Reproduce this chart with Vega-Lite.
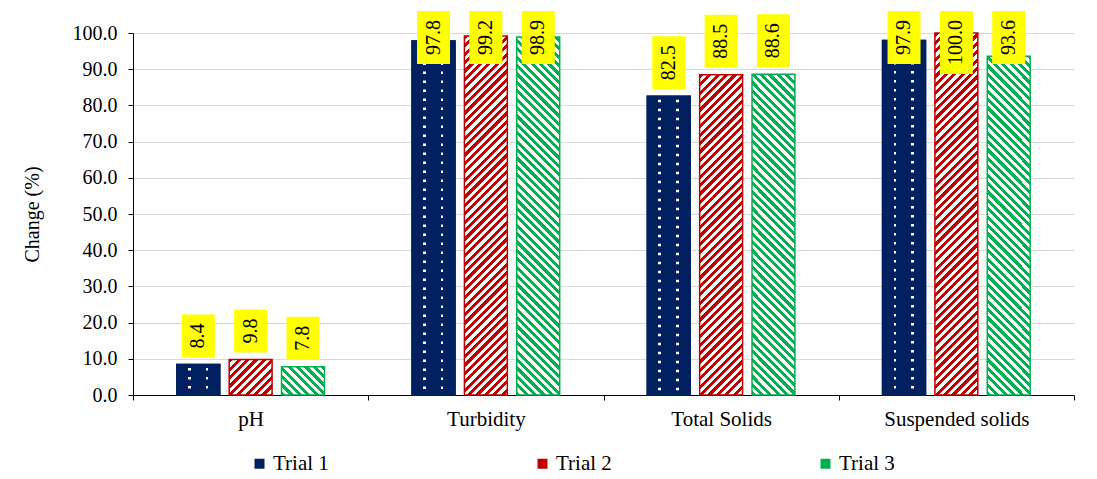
{
  "$schema": "https://vega.github.io/schema/vega-lite/v6.json",
  "autosize": "none",
  "width": 941,
  "height": 362,
  "padding": {"left": 133, "top": 33, "right": 23, "bottom": 84},
  "background": "white",
  "params": [
    {"name": "s2", "value": [
      {"offset":0,"color":"#c00000"},{"offset":0.01,"color":"#c00000"},{"offset":0.01,"color":"#fff"},{"offset":0.02,"color":"#fff"},
      {"offset":0.02,"color":"#c00000"},{"offset":0.03,"color":"#c00000"},{"offset":0.03,"color":"#fff"},{"offset":0.04,"color":"#fff"},
      {"offset":0.04,"color":"#c00000"},{"offset":0.05,"color":"#c00000"},{"offset":0.05,"color":"#fff"},{"offset":0.06,"color":"#fff"},
      {"offset":0.06,"color":"#c00000"},{"offset":0.07,"color":"#c00000"},{"offset":0.07,"color":"#fff"},{"offset":0.08,"color":"#fff"},
      {"offset":0.08,"color":"#c00000"},{"offset":0.09,"color":"#c00000"},{"offset":0.09,"color":"#fff"},{"offset":0.1,"color":"#fff"},
      {"offset":0.1,"color":"#c00000"},{"offset":0.11,"color":"#c00000"},{"offset":0.11,"color":"#fff"},{"offset":0.12,"color":"#fff"},
      {"offset":0.12,"color":"#c00000"},{"offset":0.13,"color":"#c00000"},{"offset":0.13,"color":"#fff"},{"offset":0.14,"color":"#fff"},
      {"offset":0.14,"color":"#c00000"},{"offset":0.15,"color":"#c00000"},{"offset":0.15,"color":"#fff"},{"offset":0.16,"color":"#fff"},
      {"offset":0.16,"color":"#c00000"},{"offset":0.17,"color":"#c00000"},{"offset":0.17,"color":"#fff"},{"offset":0.18,"color":"#fff"},
      {"offset":0.18,"color":"#c00000"},{"offset":0.19,"color":"#c00000"},{"offset":0.19,"color":"#fff"},{"offset":0.2,"color":"#fff"},
      {"offset":0.2,"color":"#c00000"},{"offset":0.21,"color":"#c00000"},{"offset":0.21,"color":"#fff"},{"offset":0.22,"color":"#fff"},
      {"offset":0.22,"color":"#c00000"},{"offset":0.23,"color":"#c00000"},{"offset":0.23,"color":"#fff"},{"offset":0.24,"color":"#fff"},
      {"offset":0.24,"color":"#c00000"},{"offset":0.25,"color":"#c00000"},{"offset":0.25,"color":"#fff"},{"offset":0.26,"color":"#fff"},
      {"offset":0.26,"color":"#c00000"},{"offset":0.27,"color":"#c00000"},{"offset":0.27,"color":"#fff"},{"offset":0.28,"color":"#fff"},
      {"offset":0.28,"color":"#c00000"},{"offset":0.29,"color":"#c00000"},{"offset":0.29,"color":"#fff"},{"offset":0.3,"color":"#fff"},
      {"offset":0.3,"color":"#c00000"},{"offset":0.31,"color":"#c00000"},{"offset":0.31,"color":"#fff"},{"offset":0.32,"color":"#fff"},
      {"offset":0.32,"color":"#c00000"},{"offset":0.33,"color":"#c00000"},{"offset":0.33,"color":"#fff"},{"offset":0.34,"color":"#fff"},
      {"offset":0.34,"color":"#c00000"},{"offset":0.35,"color":"#c00000"},{"offset":0.35,"color":"#fff"},{"offset":0.36,"color":"#fff"},
      {"offset":0.36,"color":"#c00000"},{"offset":0.37,"color":"#c00000"},{"offset":0.37,"color":"#fff"},{"offset":0.38,"color":"#fff"},
      {"offset":0.38,"color":"#c00000"},{"offset":0.39,"color":"#c00000"},{"offset":0.39,"color":"#fff"},{"offset":0.4,"color":"#fff"},
      {"offset":0.4,"color":"#c00000"},{"offset":0.41,"color":"#c00000"},{"offset":0.41,"color":"#fff"},{"offset":0.42,"color":"#fff"},
      {"offset":0.42,"color":"#c00000"},{"offset":0.43,"color":"#c00000"},{"offset":0.43,"color":"#fff"},{"offset":0.44,"color":"#fff"},
      {"offset":0.44,"color":"#c00000"},{"offset":0.45,"color":"#c00000"},{"offset":0.45,"color":"#fff"},{"offset":0.46,"color":"#fff"},
      {"offset":0.46,"color":"#c00000"},{"offset":0.47,"color":"#c00000"},{"offset":0.47,"color":"#fff"},{"offset":0.48,"color":"#fff"},
      {"offset":0.48,"color":"#c00000"},{"offset":0.49,"color":"#c00000"},{"offset":0.49,"color":"#fff"},{"offset":0.5,"color":"#fff"},
      {"offset":0.5,"color":"#c00000"},{"offset":0.51,"color":"#c00000"},{"offset":0.51,"color":"#fff"},{"offset":0.52,"color":"#fff"},
      {"offset":0.52,"color":"#c00000"},{"offset":0.53,"color":"#c00000"},{"offset":0.53,"color":"#fff"},{"offset":0.54,"color":"#fff"},
      {"offset":0.54,"color":"#c00000"},{"offset":0.55,"color":"#c00000"},{"offset":0.55,"color":"#fff"},{"offset":0.56,"color":"#fff"},
      {"offset":0.56,"color":"#c00000"},{"offset":0.57,"color":"#c00000"},{"offset":0.57,"color":"#fff"},{"offset":0.58,"color":"#fff"},
      {"offset":0.58,"color":"#c00000"},{"offset":0.59,"color":"#c00000"},{"offset":0.59,"color":"#fff"},{"offset":0.6,"color":"#fff"},
      {"offset":0.6,"color":"#c00000"},{"offset":0.61,"color":"#c00000"},{"offset":0.61,"color":"#fff"},{"offset":0.62,"color":"#fff"},
      {"offset":0.62,"color":"#c00000"},{"offset":0.63,"color":"#c00000"},{"offset":0.63,"color":"#fff"},{"offset":0.64,"color":"#fff"},
      {"offset":0.64,"color":"#c00000"},{"offset":0.65,"color":"#c00000"},{"offset":0.65,"color":"#fff"},{"offset":0.66,"color":"#fff"},
      {"offset":0.66,"color":"#c00000"},{"offset":0.67,"color":"#c00000"},{"offset":0.67,"color":"#fff"},{"offset":0.68,"color":"#fff"},
      {"offset":0.68,"color":"#c00000"},{"offset":0.69,"color":"#c00000"},{"offset":0.69,"color":"#fff"},{"offset":0.7,"color":"#fff"},
      {"offset":0.7,"color":"#c00000"},{"offset":0.71,"color":"#c00000"},{"offset":0.71,"color":"#fff"},{"offset":0.72,"color":"#fff"},
      {"offset":0.72,"color":"#c00000"},{"offset":0.73,"color":"#c00000"},{"offset":0.73,"color":"#fff"},{"offset":0.74,"color":"#fff"},
      {"offset":0.74,"color":"#c00000"},{"offset":0.75,"color":"#c00000"},{"offset":0.75,"color":"#fff"},{"offset":0.76,"color":"#fff"},
      {"offset":0.76,"color":"#c00000"},{"offset":0.77,"color":"#c00000"},{"offset":0.77,"color":"#fff"},{"offset":0.78,"color":"#fff"},
      {"offset":0.78,"color":"#c00000"},{"offset":0.79,"color":"#c00000"},{"offset":0.79,"color":"#fff"},{"offset":0.8,"color":"#fff"},
      {"offset":0.8,"color":"#c00000"},{"offset":0.81,"color":"#c00000"},{"offset":0.81,"color":"#fff"},{"offset":0.82,"color":"#fff"},
      {"offset":0.82,"color":"#c00000"},{"offset":0.83,"color":"#c00000"},{"offset":0.83,"color":"#fff"},{"offset":0.84,"color":"#fff"},
      {"offset":0.84,"color":"#c00000"},{"offset":0.85,"color":"#c00000"},{"offset":0.85,"color":"#fff"},{"offset":0.86,"color":"#fff"},
      {"offset":0.86,"color":"#c00000"},{"offset":0.87,"color":"#c00000"},{"offset":0.87,"color":"#fff"},{"offset":0.88,"color":"#fff"},
      {"offset":0.88,"color":"#c00000"},{"offset":0.89,"color":"#c00000"},{"offset":0.89,"color":"#fff"},{"offset":0.9,"color":"#fff"},
      {"offset":0.9,"color":"#c00000"},{"offset":0.91,"color":"#c00000"},{"offset":0.91,"color":"#fff"},{"offset":0.92,"color":"#fff"},
      {"offset":0.92,"color":"#c00000"},{"offset":0.93,"color":"#c00000"},{"offset":0.93,"color":"#fff"},{"offset":0.94,"color":"#fff"},
      {"offset":0.94,"color":"#c00000"},{"offset":0.95,"color":"#c00000"},{"offset":0.95,"color":"#fff"},{"offset":0.96,"color":"#fff"},
      {"offset":0.96,"color":"#c00000"},{"offset":0.97,"color":"#c00000"},{"offset":0.97,"color":"#fff"},{"offset":0.98,"color":"#fff"},
      {"offset":0.98,"color":"#c00000"},{"offset":0.99,"color":"#c00000"},{"offset":0.99,"color":"#fff"},{"offset":1,"color":"#fff"}
    ]},
    {"name": "s3", "value": [
      {"offset":0,"color":"#00b050"},{"offset":0.01,"color":"#00b050"},{"offset":0.01,"color":"#fff"},{"offset":0.02,"color":"#fff"},
      {"offset":0.02,"color":"#00b050"},{"offset":0.03,"color":"#00b050"},{"offset":0.03,"color":"#fff"},{"offset":0.04,"color":"#fff"},
      {"offset":0.04,"color":"#00b050"},{"offset":0.05,"color":"#00b050"},{"offset":0.05,"color":"#fff"},{"offset":0.06,"color":"#fff"},
      {"offset":0.06,"color":"#00b050"},{"offset":0.07,"color":"#00b050"},{"offset":0.07,"color":"#fff"},{"offset":0.08,"color":"#fff"},
      {"offset":0.08,"color":"#00b050"},{"offset":0.09,"color":"#00b050"},{"offset":0.09,"color":"#fff"},{"offset":0.1,"color":"#fff"},
      {"offset":0.1,"color":"#00b050"},{"offset":0.11,"color":"#00b050"},{"offset":0.11,"color":"#fff"},{"offset":0.12,"color":"#fff"},
      {"offset":0.12,"color":"#00b050"},{"offset":0.13,"color":"#00b050"},{"offset":0.13,"color":"#fff"},{"offset":0.14,"color":"#fff"},
      {"offset":0.14,"color":"#00b050"},{"offset":0.15,"color":"#00b050"},{"offset":0.15,"color":"#fff"},{"offset":0.16,"color":"#fff"},
      {"offset":0.16,"color":"#00b050"},{"offset":0.17,"color":"#00b050"},{"offset":0.17,"color":"#fff"},{"offset":0.18,"color":"#fff"},
      {"offset":0.18,"color":"#00b050"},{"offset":0.19,"color":"#00b050"},{"offset":0.19,"color":"#fff"},{"offset":0.2,"color":"#fff"},
      {"offset":0.2,"color":"#00b050"},{"offset":0.21,"color":"#00b050"},{"offset":0.21,"color":"#fff"},{"offset":0.22,"color":"#fff"},
      {"offset":0.22,"color":"#00b050"},{"offset":0.23,"color":"#00b050"},{"offset":0.23,"color":"#fff"},{"offset":0.24,"color":"#fff"},
      {"offset":0.24,"color":"#00b050"},{"offset":0.25,"color":"#00b050"},{"offset":0.25,"color":"#fff"},{"offset":0.26,"color":"#fff"},
      {"offset":0.26,"color":"#00b050"},{"offset":0.27,"color":"#00b050"},{"offset":0.27,"color":"#fff"},{"offset":0.28,"color":"#fff"},
      {"offset":0.28,"color":"#00b050"},{"offset":0.29,"color":"#00b050"},{"offset":0.29,"color":"#fff"},{"offset":0.3,"color":"#fff"},
      {"offset":0.3,"color":"#00b050"},{"offset":0.31,"color":"#00b050"},{"offset":0.31,"color":"#fff"},{"offset":0.32,"color":"#fff"},
      {"offset":0.32,"color":"#00b050"},{"offset":0.33,"color":"#00b050"},{"offset":0.33,"color":"#fff"},{"offset":0.34,"color":"#fff"},
      {"offset":0.34,"color":"#00b050"},{"offset":0.35,"color":"#00b050"},{"offset":0.35,"color":"#fff"},{"offset":0.36,"color":"#fff"},
      {"offset":0.36,"color":"#00b050"},{"offset":0.37,"color":"#00b050"},{"offset":0.37,"color":"#fff"},{"offset":0.38,"color":"#fff"},
      {"offset":0.38,"color":"#00b050"},{"offset":0.39,"color":"#00b050"},{"offset":0.39,"color":"#fff"},{"offset":0.4,"color":"#fff"},
      {"offset":0.4,"color":"#00b050"},{"offset":0.41,"color":"#00b050"},{"offset":0.41,"color":"#fff"},{"offset":0.42,"color":"#fff"},
      {"offset":0.42,"color":"#00b050"},{"offset":0.43,"color":"#00b050"},{"offset":0.43,"color":"#fff"},{"offset":0.44,"color":"#fff"},
      {"offset":0.44,"color":"#00b050"},{"offset":0.45,"color":"#00b050"},{"offset":0.45,"color":"#fff"},{"offset":0.46,"color":"#fff"},
      {"offset":0.46,"color":"#00b050"},{"offset":0.47,"color":"#00b050"},{"offset":0.47,"color":"#fff"},{"offset":0.48,"color":"#fff"},
      {"offset":0.48,"color":"#00b050"},{"offset":0.49,"color":"#00b050"},{"offset":0.49,"color":"#fff"},{"offset":0.5,"color":"#fff"},
      {"offset":0.5,"color":"#00b050"},{"offset":0.51,"color":"#00b050"},{"offset":0.51,"color":"#fff"},{"offset":0.52,"color":"#fff"},
      {"offset":0.52,"color":"#00b050"},{"offset":0.53,"color":"#00b050"},{"offset":0.53,"color":"#fff"},{"offset":0.54,"color":"#fff"},
      {"offset":0.54,"color":"#00b050"},{"offset":0.55,"color":"#00b050"},{"offset":0.55,"color":"#fff"},{"offset":0.56,"color":"#fff"},
      {"offset":0.56,"color":"#00b050"},{"offset":0.57,"color":"#00b050"},{"offset":0.57,"color":"#fff"},{"offset":0.58,"color":"#fff"},
      {"offset":0.58,"color":"#00b050"},{"offset":0.59,"color":"#00b050"},{"offset":0.59,"color":"#fff"},{"offset":0.6,"color":"#fff"},
      {"offset":0.6,"color":"#00b050"},{"offset":0.61,"color":"#00b050"},{"offset":0.61,"color":"#fff"},{"offset":0.62,"color":"#fff"},
      {"offset":0.62,"color":"#00b050"},{"offset":0.63,"color":"#00b050"},{"offset":0.63,"color":"#fff"},{"offset":0.64,"color":"#fff"},
      {"offset":0.64,"color":"#00b050"},{"offset":0.65,"color":"#00b050"},{"offset":0.65,"color":"#fff"},{"offset":0.66,"color":"#fff"},
      {"offset":0.66,"color":"#00b050"},{"offset":0.67,"color":"#00b050"},{"offset":0.67,"color":"#fff"},{"offset":0.68,"color":"#fff"},
      {"offset":0.68,"color":"#00b050"},{"offset":0.69,"color":"#00b050"},{"offset":0.69,"color":"#fff"},{"offset":0.7,"color":"#fff"},
      {"offset":0.7,"color":"#00b050"},{"offset":0.71,"color":"#00b050"},{"offset":0.71,"color":"#fff"},{"offset":0.72,"color":"#fff"},
      {"offset":0.72,"color":"#00b050"},{"offset":0.73,"color":"#00b050"},{"offset":0.73,"color":"#fff"},{"offset":0.74,"color":"#fff"},
      {"offset":0.74,"color":"#00b050"},{"offset":0.75,"color":"#00b050"},{"offset":0.75,"color":"#fff"},{"offset":0.76,"color":"#fff"},
      {"offset":0.76,"color":"#00b050"},{"offset":0.77,"color":"#00b050"},{"offset":0.77,"color":"#fff"},{"offset":0.78,"color":"#fff"},
      {"offset":0.78,"color":"#00b050"},{"offset":0.79,"color":"#00b050"},{"offset":0.79,"color":"#fff"},{"offset":0.8,"color":"#fff"},
      {"offset":0.8,"color":"#00b050"},{"offset":0.81,"color":"#00b050"},{"offset":0.81,"color":"#fff"},{"offset":0.82,"color":"#fff"},
      {"offset":0.82,"color":"#00b050"},{"offset":0.83,"color":"#00b050"},{"offset":0.83,"color":"#fff"},{"offset":0.84,"color":"#fff"},
      {"offset":0.84,"color":"#00b050"},{"offset":0.85,"color":"#00b050"},{"offset":0.85,"color":"#fff"},{"offset":0.86,"color":"#fff"},
      {"offset":0.86,"color":"#00b050"},{"offset":0.87,"color":"#00b050"},{"offset":0.87,"color":"#fff"},{"offset":0.88,"color":"#fff"},
      {"offset":0.88,"color":"#00b050"},{"offset":0.89,"color":"#00b050"},{"offset":0.89,"color":"#fff"},{"offset":0.9,"color":"#fff"},
      {"offset":0.9,"color":"#00b050"},{"offset":0.91,"color":"#00b050"},{"offset":0.91,"color":"#fff"},{"offset":0.92,"color":"#fff"},
      {"offset":0.92,"color":"#00b050"},{"offset":0.93,"color":"#00b050"},{"offset":0.93,"color":"#fff"},{"offset":0.94,"color":"#fff"},
      {"offset":0.94,"color":"#00b050"},{"offset":0.95,"color":"#00b050"},{"offset":0.95,"color":"#fff"},{"offset":0.96,"color":"#fff"},
      {"offset":0.96,"color":"#00b050"},{"offset":0.97,"color":"#00b050"},{"offset":0.97,"color":"#fff"},{"offset":0.98,"color":"#fff"},
      {"offset":0.98,"color":"#00b050"},{"offset":0.99,"color":"#00b050"},{"offset":0.99,"color":"#fff"},{"offset":1,"color":"#fff"}
    ]}
  ],
  "data": {"values": [
    {"parameter": "pH", "trial": "Trial 1", "value": 8.4},
    {"parameter": "pH", "trial": "Trial 2", "value": 9.8},
    {"parameter": "pH", "trial": "Trial 3", "value": 7.8},
    {"parameter": "Turbidity", "trial": "Trial 1", "value": 97.8},
    {"parameter": "Turbidity", "trial": "Trial 2", "value": 99.2},
    {"parameter": "Turbidity", "trial": "Trial 3", "value": 98.9},
    {"parameter": "Total Solids", "trial": "Trial 1", "value": 82.5},
    {"parameter": "Total Solids", "trial": "Trial 2", "value": 88.5},
    {"parameter": "Total Solids", "trial": "Trial 3", "value": 88.6},
    {"parameter": "Suspended solids", "trial": "Trial 1", "value": 97.9},
    {"parameter": "Suspended solids", "trial": "Trial 2", "value": 100.0},
    {"parameter": "Suspended solids", "trial": "Trial 3", "value": 93.6}
  ]},
  "transform": [
    {"calculate": "datum.value * 3.62", "as": "H"},
    {"calculate": "datum.trial == 'Trial 1' ? '#002060' : datum.trial == 'Trial 2' ? {gradient: 'linear', x1: 0, y1: 0, x2: 420 * 43 / (1849 + datum.H * datum.H), y2: 420 * datum.H / (1849 + datum.H * datum.H), stops: s2} : {gradient: 'linear', x1: 0, y1: 1, x2: 420 * 43 / (1849 + datum.H * datum.H), y2: 1 - 420 * datum.H / (1849 + datum.H * datum.H), stops: s3}", "as": "grad"},
    {"calculate": "format(datum.value, '.1f')", "as": "lab"},
    {"calculate": "(10 * length(datum.lab) + 13) / 3.62", "as": "hb"},
    {"calculate": "min(datum.value + 1.93 + datum.hb, 106.08)", "as": "bt"},
    {"calculate": "datum.bt - datum.hb", "as": "bb"},
    {"calculate": "(datum.bt + datum.bb) / 2", "as": "bm"}
  ],
  "encoding": {
    "x": {
      "field": "parameter", "type": "nominal", "sort": null,
      "scale": {"paddingInner": 0, "paddingOuter": 0},
      "axis": {
        "title": null, "labelAngle": 0, "labelFont": "Liberation Serif, serif", "labelFontSize": 21,
        "labelColor": "black", "domainColor": "black", "tickColor": "black", "tickSize": 5,
        "tickBand": "extent", "labelPadding": 8, "grid": false
      }
    },
    "xOffset": {
      "field": "trial", "type": "nominal", "sort": ["Trial 1", "Trial 2", "Trial 3"],
      "scale": {"paddingInner": 0.18, "paddingOuter": 0.837}
    }
  },
  "layer": [
    {
      "mark": {"type": "bar"},
      "encoding": {
        "y": {
          "field": "value", "type": "quantitative",
          "scale": {"domain": [0, 100], "nice": false},
          "axis": {
            "values": [0, 10, 20, 30, 40, 50, 60, 70, 80, 90, 100], "format": ".1f", "labelOverlap": false,
            "grid": true, "gridColor": "#d9d9d9", "gridWidth": 1,
            "domainColor": "black", "tickColor": "black", "tickSize": 5,
            "labelFont": "Liberation Serif, serif", "labelFontSize": 20, "labelColor": "black", "labelPadding": 11,
            "title": "Change (%)", "titleFont": "Liberation Serif, serif", "titleFontSize": 20,
            "titleFontWeight": "normal", "titleColor": "black", "titlePadding": 30
          }
        },
        "color": {
          "field": "trial", "type": "nominal",
          "scale": {"domain": ["Trial 1", "Trial 2", "Trial 3"], "range": ["#002060", "#c00000", "#00b050"]},
          "legend": {
            "orient": "none", "legendX": 116, "legendY": 420, "direction": "horizontal",
            "title": null, "symbolType": "square", "symbolSize": 100, "symbolStrokeWidth": 0,
            "labelFont": "Liberation Serif, serif", "labelFontSize": 21, "labelColor": "black",
            "labelOffset": 3, "columnPadding": 203, "padding": 0
          }
        }
      }
    },
    {
      "mark": {"type": "bar", "strokeWidth": 1.5},
      "encoding": {
        "y": {
          "field": "value", "type": "quantitative",
          "scale": {"domain": [0, 100], "nice": false},
          "axis": {
            "values": [0, 10, 20, 30, 40, 50, 60, 70, 80, 90, 100], "format": ".1f", "labelOverlap": false,
            "grid": true, "gridColor": "#d9d9d9", "gridWidth": 1,
            "domainColor": "black", "tickColor": "black", "tickSize": 5,
            "labelFont": "Liberation Serif, serif", "labelFontSize": 20, "labelColor": "black", "labelPadding": 11,
            "title": "Change (%)", "titleFont": "Liberation Serif, serif", "titleFontSize": 20,
            "titleFontWeight": "normal", "titleColor": "black", "titlePadding": 30
          }
        },
        "fill": {"field": "grad", "type": "nominal", "scale": null},
        "stroke": {
          "field": "trial", "type": "nominal",
          "scale": {"domain": ["Trial 1", "Trial 2", "Trial 3"], "range": ["#002060", "#c00000", "#00b050"]},
          "legend": null
        }
      }
    },
    {
      "transform": [{"filter": "datum.trial == 'Trial 1'"}],
      "mark": {"type": "rule", "color": "white", "strokeWidth": 40, "strokeDash": [2.5, 6.5], "strokeDashOffset": 5.5, "strokeCap": "butt"},
      "encoding": {
        "y": {
          "field": "value", "type": "quantitative",
          "scale": {"domain": [0, 100], "nice": false},
          "axis": {
            "values": [0, 10, 20, 30, 40, 50, 60, 70, 80, 90, 100], "format": ".1f", "labelOverlap": false,
            "grid": true, "gridColor": "#d9d9d9", "gridWidth": 1,
            "domainColor": "black", "tickColor": "black", "tickSize": 5,
            "labelFont": "Liberation Serif, serif", "labelFontSize": 20, "labelColor": "black", "labelPadding": 11,
            "title": "Change (%)", "titleFont": "Liberation Serif, serif", "titleFontSize": 20,
            "titleFontWeight": "normal", "titleColor": "black", "titlePadding": 30
          }
        },
        "y2": {"datum": 0}
      }
    },
    {
      "transform": [{"filter": "datum.trial == 'Trial 1'"}],
      "mark": {
        "type": "bar", "stroke": "#002060", "strokeWidth": 1.5,
        "fill": {"gradient": "linear", "x1": 0, "y1": 0, "x2": 1, "y2": 0, "stops": [
          {"offset": 0, "color": "rgba(0,32,96,1)"}, {"offset": 0.26, "color": "rgba(0,32,96,1)"},
          {"offset": 0.26, "color": "rgba(0,32,96,0)"}, {"offset": 0.32, "color": "rgba(0,32,96,0)"},
          {"offset": 0.32, "color": "rgba(0,32,96,1)"}, {"offset": 0.67, "color": "rgba(0,32,96,1)"},
          {"offset": 0.67, "color": "rgba(0,32,96,0)"}, {"offset": 0.73, "color": "rgba(0,32,96,0)"},
          {"offset": 0.73, "color": "rgba(0,32,96,1)"}, {"offset": 1, "color": "rgba(0,32,96,1)"}
        ]}
      },
      "encoding": {
        "y": {
          "field": "value", "type": "quantitative",
          "scale": {"domain": [0, 100], "nice": false},
          "axis": {
            "values": [0, 10, 20, 30, 40, 50, 60, 70, 80, 90, 100], "format": ".1f", "labelOverlap": false,
            "grid": true, "gridColor": "#d9d9d9", "gridWidth": 1,
            "domainColor": "black", "tickColor": "black", "tickSize": 5,
            "labelFont": "Liberation Serif, serif", "labelFontSize": 20, "labelColor": "black", "labelPadding": 11,
            "title": "Change (%)", "titleFont": "Liberation Serif, serif", "titleFontSize": 20,
            "titleFontWeight": "normal", "titleColor": "black", "titlePadding": 30
          }
        }
      }
    },
    {
      "mark": {"type": "rule", "color": "#ffff00", "strokeWidth": 33, "strokeCap": "butt"},
      "encoding": {
        "y": {
          "field": "bt", "type": "quantitative",
          "scale": {"domain": [0, 100], "nice": false},
          "axis": {
            "values": [0, 10, 20, 30, 40, 50, 60, 70, 80, 90, 100], "format": ".1f", "labelOverlap": false,
            "grid": true, "gridColor": "#d9d9d9", "gridWidth": 1,
            "domainColor": "black", "tickColor": "black", "tickSize": 5,
            "labelFont": "Liberation Serif, serif", "labelFontSize": 20, "labelColor": "black", "labelPadding": 11,
            "title": "Change (%)", "titleFont": "Liberation Serif, serif", "titleFontSize": 20,
            "titleFontWeight": "normal", "titleColor": "black", "titlePadding": 30
          }
        },
        "y2": {"field": "bb"}
      }
    },
    {
      "mark": {"type": "text", "angle": 270, "align": "center", "baseline": "middle", "font": "Liberation Serif, serif", "fontSize": 20, "color": "black"},
      "encoding": {
        "y": {
          "field": "bm", "type": "quantitative",
          "scale": {"domain": [0, 100], "nice": false},
          "axis": {
            "values": [0, 10, 20, 30, 40, 50, 60, 70, 80, 90, 100], "format": ".1f", "labelOverlap": false,
            "grid": true, "gridColor": "#d9d9d9", "gridWidth": 1,
            "domainColor": "black", "tickColor": "black", "tickSize": 5,
            "labelFont": "Liberation Serif, serif", "labelFontSize": 20, "labelColor": "black", "labelPadding": 11,
            "title": "Change (%)", "titleFont": "Liberation Serif, serif", "titleFontSize": 20,
            "titleFontWeight": "normal", "titleColor": "black", "titlePadding": 30
          }
        },
        "text": {"field": "lab", "type": "nominal"}
      }
    }
  ],
  "config": {
    "font": "Liberation Serif, serif",
    "view": {"stroke": null},
    "axis": {"labelFont": "Liberation Serif, serif", "titleFont": "Liberation Serif, serif"},
    "legend": {"labelFont": "Liberation Serif, serif"},
    "text": {"font": "Liberation Serif, serif"}
  }
}
